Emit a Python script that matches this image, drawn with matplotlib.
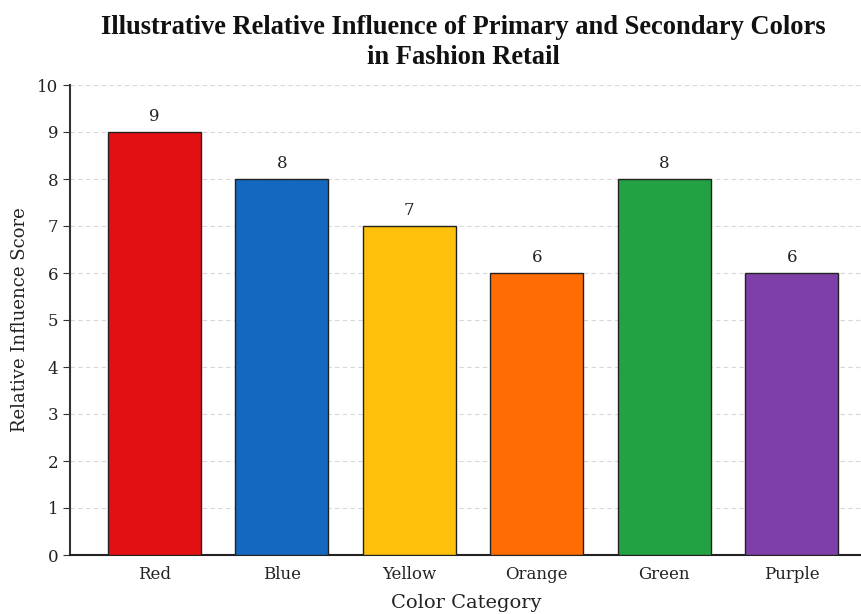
import matplotlib
matplotlib.use("Agg")
import matplotlib.pyplot as plt

categories = ["Red", "Blue", "Yellow", "Orange", "Green", "Purple"]
scores = [9, 8, 7, 6, 8, 6]
bar_colors = ["#E31013", "#1469BF", "#FEC00A", "#FF6C02", "#22A243", "#7F3FA9"]

fig = plt.figure(figsize=(8.62, 6.14), dpi=100)
ax = fig.add_axes([70 / 862, 59 / 614, 1 - 70 / 862, 470 / 614])

x = range(len(categories))
bars = ax.bar(x, scores, width=0.73, color=bar_colors, edgecolor="#222222",
              linewidth=1.0, zorder=3)

for b, v in zip(bars, scores):
    ax.text(b.get_x() + b.get_width() / 2, v + 0.15, str(v), ha="center",
            va="bottom", fontsize=12, family="DejaVu Serif", color="#222222")

ax.set_xlim(-0.66, 5.55)
ax.set_ylim(0, 10)
ax.set_yticks(range(0, 11))
ax.set_xticks(list(x))
ax.set_xticklabels(categories)
for lab in ax.get_xticklabels() + ax.get_yticklabels():
    lab.set_family("DejaVu Serif")
    lab.set_fontsize(12)
    lab.set_color("#222222")

ax.yaxis.grid(True, linestyle=(0, (4, 3)), color="#d8d8d8", linewidth=0.8, zorder=0)
ax.spines["top"].set_visible(False)
ax.spines["right"].set_visible(False)
ax.spines["left"].set_color("#333333")
ax.spines["bottom"].set_color("#222222")
ax.spines["bottom"].set_linewidth(1.5)
ax.spines["left"].set_linewidth(1.5)
ax.tick_params(axis="x", length=0, pad=8)
ax.tick_params(axis="y", length=5, color="#333333")

ax.set_ylabel("Relative Influence Score", family="DejaVu Serif", fontsize=13,
              color="#222222", labelpad=6)
ax.set_xlabel("Color Category", family="DejaVu Serif", fontsize=14,
              color="#222222", labelpad=8)

fig.text(0.537, 0.975, "Illustrative Relative Influence of Primary and Secondary Colors\nin Fashion Retail",
         ha="center", va="top", fontsize=19.1, fontweight="bold",
         family="Liberation Serif", linespacing=1.22, color="#111111")

fig.savefig("out.png", dpi=100)
